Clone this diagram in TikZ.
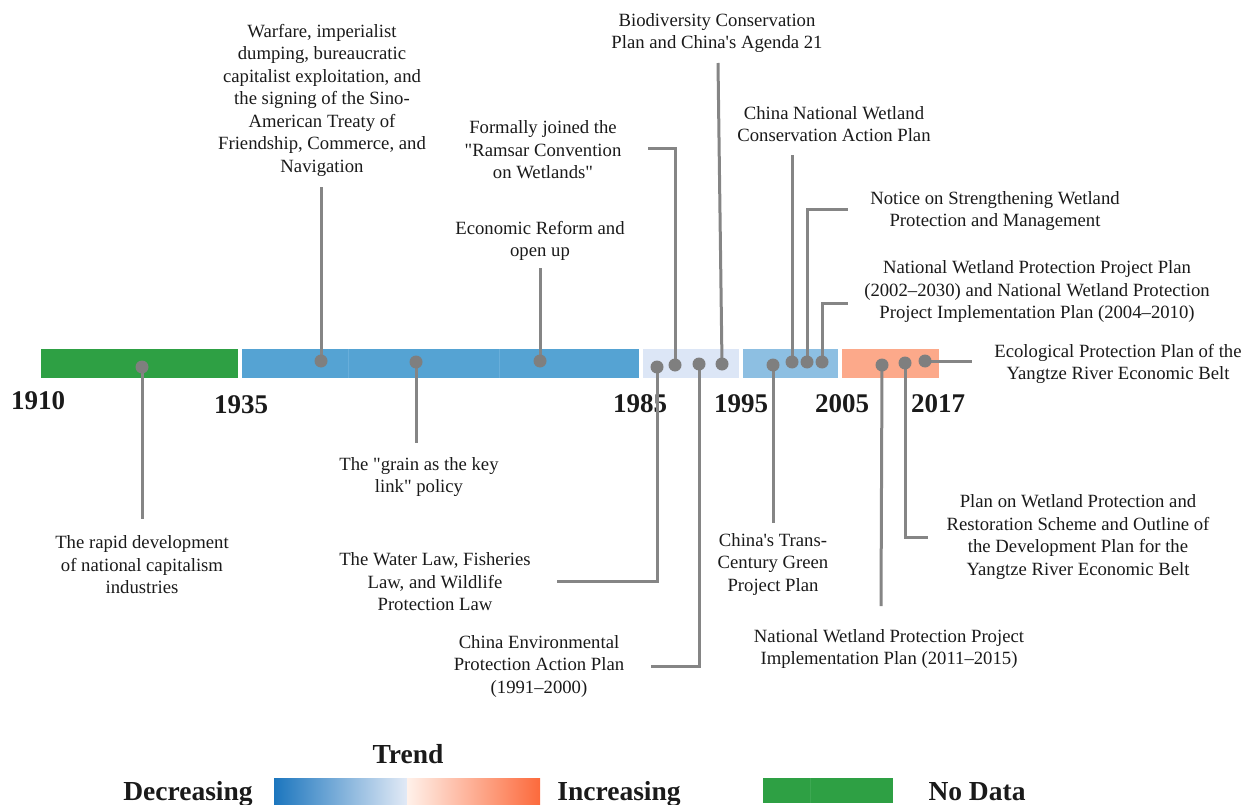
\documentclass[tikz,border=0pt]{standalone}
\usepackage{fontspec}
\setmainfont{Liberation Serif}
\newfontfamily\plainq{Liberation Serif}[Ligatures=TeXOff]
\newcommand{\dq}{{\plainq"}}
\newcommand{\sq}{{\plainq'}}
\definecolor{txt}{HTML}{1A1A1A}
\definecolor{dotgray}{HTML}{7F7F7F}
\definecolor{linegray}{HTML}{858585}
\definecolor{barGreen}{HTML}{2EA044}
\definecolor{barGreenLine}{HTML}{3DA852}
\definecolor{barBlue}{HTML}{55A3D3}
\definecolor{barBlueLine}{HTML}{68AEDA}
\definecolor{barLight}{HTML}{DCE6F6}
\definecolor{barMid}{HTML}{8DBFE2}
\definecolor{barOrange}{HTML}{FCA98A}
\definecolor{gradBlue}{HTML}{1C76BE}
\definecolor{gradLight}{HTML}{E2EAF6}
\definecolor{gradPeach}{HTML}{FFF1EA}
\definecolor{gradOrange}{HTML}{FC6A3C}
\pgfdeclarelayer{bars}
\pgfdeclarelayer{lines}
\pgfsetlayers{bars,lines,main}
\begin{document}
\begin{tikzpicture}[x=1pt,y=-1pt,
  lbl/.style={font=\fontsize{18.7}{22.5}\selectfont, align=center, inner sep=0pt, text=txt},
  yr/.style={font=\fontsize{27}{30}\selectfont\bfseries, inner sep=0pt, anchor=base, text=txt},
  leg/.style={font=\fontsize{27.5}{30}\selectfont\bfseries, inner sep=0pt, anchor=base, text=txt},
  dot/.style={circle, fill=dotgray, minimum size=13pt, inner sep=0pt},
  conn/.style={draw=linegray, line width=3pt}]
\useasboundingbox (0,0) rectangle (1247,805);

% ---------- timeline bars and years ----------
\begin{pgfonlayer}{bars}
  \fill[barGreen] (41,349) rectangle (238,378);
  \fill[barBlue] (242,349) rectangle (639,378);
  \draw[barBlueLine, line width=0.8pt] (348,349) -- (348,378);
  \draw[barBlueLine, line width=0.8pt] (499,349) -- (499,378);
  \fill[barLight] (643,349) rectangle (739,378);
  \fill[barMid] (743,349) rectangle (838,378);
  \fill[barOrange] (842,349) rectangle (939,378);
  \node[yr] (y1910) at (38,409) {1910};
  \node[yr] (y1935) at (241,413) {1935};
  \node[yr] (y1985) at (640,412) {1985};
  \node[yr] (y1995) at (741,412) {1995};
  \node[yr] (y2005) at (842,412) {2005};
  \node[yr] (y2017) at (938,412) {2017};
\end{pgfonlayer}

% ---------- dots ----------
\node[dot] (d1) at (142,367) {};
\node[dot] (d2) at (321,361) {};
\node[dot] (d3) at (416,362) {};
\node[dot] (d4) at (540,361) {};
\node[dot] (d5) at (657,367) {};
\node[dot] (d6) at (675,365) {};
\node[dot] (d7) at (699,364) {};
\node[dot] (d8) at (722,364) {};
\node[dot] (d9) at (773,365) {};
\node[dot] (d10) at (792,362) {};
\node[dot] (d11) at (807,362) {};
\node[dot] (d12) at (822,362) {};
\node[dot] (d13) at (882,365) {};
\node[dot] (d14) at (905,363) {};
\node[dot] (d15) at (925,361) {};

% ---------- connector ends ----------
\coordinate (e1) at (142,519);
\coordinate (e2) at (321,187);
\coordinate (e3) at (416,443);
\coordinate (e4) at (540,268);
\coordinate (e5) at (557,581);
\coordinate (e6) at (648,149);
\coordinate (e7) at (651,666);
\coordinate (e8) at (718,63);
\coordinate (e9) at (773,523);
\coordinate (e10) at (792,155);
\coordinate (e11) at (848,210);
\coordinate (e12) at (848,303);
\coordinate (e13) at (881,606);
\coordinate (e14) at (928,537);
\coordinate (e15) at (972,361);

\begin{pgfonlayer}{lines}
  \draw[conn] (d1.center) -- (e1);
  \draw[conn] (d2.center) -- (e2);
  \draw[conn] (d3.center) -- (e3);
  \draw[conn] (d4.center) -- (e4);
  \draw[conn] (d5.center) |- (e5);
  \draw[conn] (d6.center) |- (e6);
  \draw[conn] (d7.center) |- (e7);
  \draw[conn] (d8.center) -- (e8);
  \draw[conn] (d9.center) -- (e9);
  \draw[conn] (d10.center) -- (e10);
  \draw[conn] (d11.center) |- (e11);
  \draw[conn] (d12.center) |- (e12);
  \draw[conn] (d13.center) -- (e13);
  \draw[conn] (d14.center) |- (e14);
  \draw[conn] (d15.center) -- (e15);
\end{pgfonlayer}

% ---------- labels ----------
\node[lbl] (l1) at (142,565) {The rapid development\\of national capitalism\\industries};
\node[lbl] (l2) at (322,100) {Warfare, imperialist\\dumping, bureaucratic\\capitalist exploitation, and\\the signing of the Sino-\\American Treaty of\\Friendship, Commerce, and\\Navigation};
\node[lbl] (l3) at (419,477) {The \dq grain as the key\\link\dq\ policy};
\node[lbl] (l4) at (540,241) {Economic Reform and\\open up};
\node[lbl] (l5) at (435,582) {The Water Law, Fisheries\\Law, and Wildlife\\Protection Law};
\node[lbl] (l6) at (543,150) {Formally joined the\\\dq Ramsar Convention\\on Wetlands\dq};
\node[lbl] (l7) at (539,666) {China Environmental\\Protection Action Plan\\(1991--2000)};
\node[lbl] (l8) at (717,33) {Biodiversity Conservation\\Plan and China\sq s Agenda 21};
\node[lbl] (l9) at (773,564) {China\sq s Trans-\\Century Green\\Project Plan};
\node[lbl] (l10) at (834,124) {China National Wetland\\Conservation Action Plan};
\node[lbl] (l11) at (995,211) {Notice on Strengthening Wetland\\Protection and Management};
\node[lbl] (l12) at (1037,292) {National Wetland Protection Project Plan\\(2002--2030) and National Wetland Protection\\Project Implementation Plan (2004--2010)};
\node[lbl] (l13) at (889,649) {National Wetland Protection Project\\Implementation Plan (2011--2015)};
\node[lbl] (l14) at (1078,537) {Plan on Wetland Protection and\\Restoration Scheme and Outline of\\the Development Plan for the\\Yangtze River Economic Belt};
\node[lbl] (l15) at (1118,364) {Ecological Protection Plan of the\\Yangtze River Economic Belt};

% ---------- legend ----------
\node[leg] (trend) at (408,763) {Trend};
\node[leg] (dec) at (188,800) {Decreasing};
\shade[left color=gradBlue, right color=gradLight] (274,778) rectangle (407,805);
\shade[left color=gradPeach, right color=gradOrange] (407,778) rectangle (540,805);
\node[leg] (inc) at (619,800) {Increasing};
\fill[barGreen] (763,778) rectangle (893,803);
\draw[barGreenLine, line width=0.6pt] (810,778) -- (810,803);
\node[leg] (nodata) at (977,800) {No Data};
\end{tikzpicture}
\end{document}
